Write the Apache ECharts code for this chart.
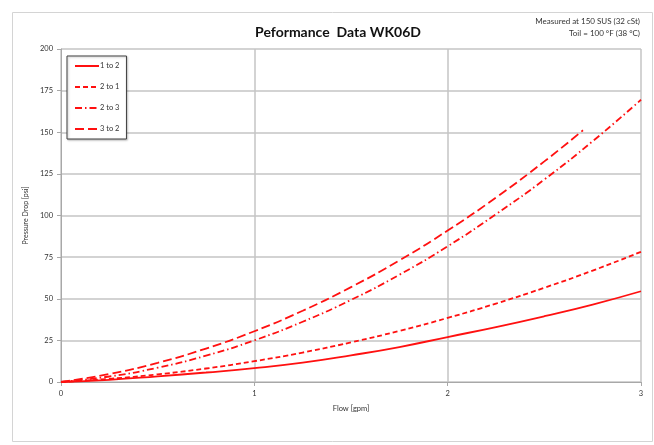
<!DOCTYPE html>
<html>
<head>
<meta charset="utf-8">
<script src="https://cdn.jsdelivr.net/npm/echarts@6/dist/echarts.min.js"></script>
<style>
  html, body { margin: 0; padding: 0; background: #fff; }
  #main { width: 654px; height: 445px; }
</style>
</head>
<body>
<div id="main"></div>
<script>
// flow points [gpm]
const flow = [0, 0.25, 0.5, 0.75, 1, 1.25, 1.5, 1.75, 2, 2.25, 2.5, 2.75, 3]
const flow32 = [0, 0.25, 0.5, 0.75, 1, 1.25, 1.5, 1.75, 2, 2.25, 2.5, 2.7]
// pressure drop [psi]
const p12 = [0, 1.3, 3.4, 5.7, 8.3, 11.6, 16, 21, 27, 33, 39.5, 46.5, 54.5]
const p21 = [0, 1.9, 4.6, 8.1, 12.5, 17.7, 23.8, 30.7, 38.5, 47.1, 56.6, 66.9, 78.2]
const p23 = [0, 3.3, 8.6, 15.8, 25, 36.2, 49.3, 64.4, 81.5, 100.8, 121.6, 144.6, 169.5]
const p32 = [0, 4.8, 11.5, 20.1, 30.5, 42.8, 57, 73, 91, 110.8, 132.5, 151.2]

const names = ['1 to 2', '2 to 1', '2 to 3', '3 to 2']
const RED = '#ff1010'
const FONT = 'Lato, "Open Sans", sans-serif'

const pairs = (xs, ys) => xs.map((x, i) => [x, ys[i]])

const chart = echarts.init(document.getElementById('main'))

const mkSeries = (name, xs, ys, dash) => ({
  name: name,
  type: 'line',
  data: pairs(xs, ys),
  smooth: true,
  showSymbol: false,
  symbol: 'none',
  lineStyle: { color: RED, width: 1.8, type: dash },
  itemStyle: { color: RED }
})

const option = {
  backgroundColor: '#fff',
  animation: false,
  title: {
    text: 'Peformance  Data WK06D',
    left: 333,
    top: 20,
    textAlign: 'center',
    textStyle: { fontFamily: FONT, fontSize: 14, fontWeight: 'bold', color: '#111' }
  },
  graphic: [
    {
      type: 'rect',
      shape: { x: 12.5, y: 12.5, width: 640, height: 429 },
      style: { fill: 'none', stroke: '#d4d4d4', lineWidth: 1 },
      silent: true
    },
    {
      type: 'text',
      right: 14,
      top: 17,
      style: { text: 'Measured at 150 SUS (32 cSt)', fontFamily: FONT, fontSize: 8, fill: '#333' }
    },
    {
      type: 'text',
      right: 14,
      top: 29,
      style: { text: 'Toil = 100 °F (38 °C)', fontFamily: FONT, fontSize: 8, fill: '#333' }
    }
  ],
  legend: {
    data: names,
    orient: 'vertical',
    left: 67,
    top: 56,
    itemWidth: 24,
    itemHeight: 9,
    itemGap: 13,
    padding: [6, 7, 6, 7],
    borderColor: '#404040',
    borderWidth: 1,
    shadowColor: 'rgba(0,0,0,0.25)',
    shadowBlur: 2,
    shadowOffsetX: 1,
    shadowOffsetY: 1,
    backgroundColor: '#fff',
    // hide the circle marker, keep only the dashed line sample
    itemStyle: { color: 'rgba(0,0,0,0)', opacity: 0, borderWidth: 0 },
    textStyle: { fontFamily: FONT, fontSize: 7.5, color: '#333', padding: [0, 0, 0, -4] }
  },
  grid: { left: 61, right: 13, top: 49, bottom: 63 },
  xAxis: {
    type: 'value',
    min: 0,
    max: 3,
    interval: 1,
    name: 'Flow [gpm]',
    nameLocation: 'middle',
    nameGap: 23,
    nameTextStyle: { fontFamily: FONT, fontSize: 7.5, color: '#333' },
    axisLine: { show: true, lineStyle: { color: '#a8a8a8', width: 1 } },
    axisTick: { show: true, length: 4, lineStyle: { color: '#a8a8a8' } },
    axisLabel: { fontFamily: FONT, fontSize: 7.5, color: '#333', margin: 8 },
    splitLine: { show: true, lineStyle: { color: '#c4c4c4', width: 1.5 } }
  },
  yAxis: {
    type: 'value',
    min: 0,
    max: 200,
    interval: 25,
    name: 'Pressure Drop [psi]',
    nameLocation: 'middle',
    nameGap: 28,
    nameTextStyle: { fontFamily: FONT, fontSize: 7, color: '#333' },
    axisLine: { show: true, lineStyle: { color: '#a8a8a8', width: 1 } },
    axisTick: { show: true, length: 4, lineStyle: { color: '#a8a8a8' } },
    axisLabel: { fontFamily: FONT, fontSize: 7.5, color: '#333', margin: 8 },
    splitLine: { show: true, lineStyle: { color: '#c4c4c4', width: 1.5 } }
  },
  series: [
    mkSeries(names[0], flow, p12, 'solid'),
    mkSeries(names[1], flow, p21, [5, 3]),
    mkSeries(names[2], flow, p23, [7, 3, 1.5, 3]),
    mkSeries(names[3], flow32, p32, [9, 4])
  ]
}

option && chart.setOption(option)
</script>
</body>
</html>
